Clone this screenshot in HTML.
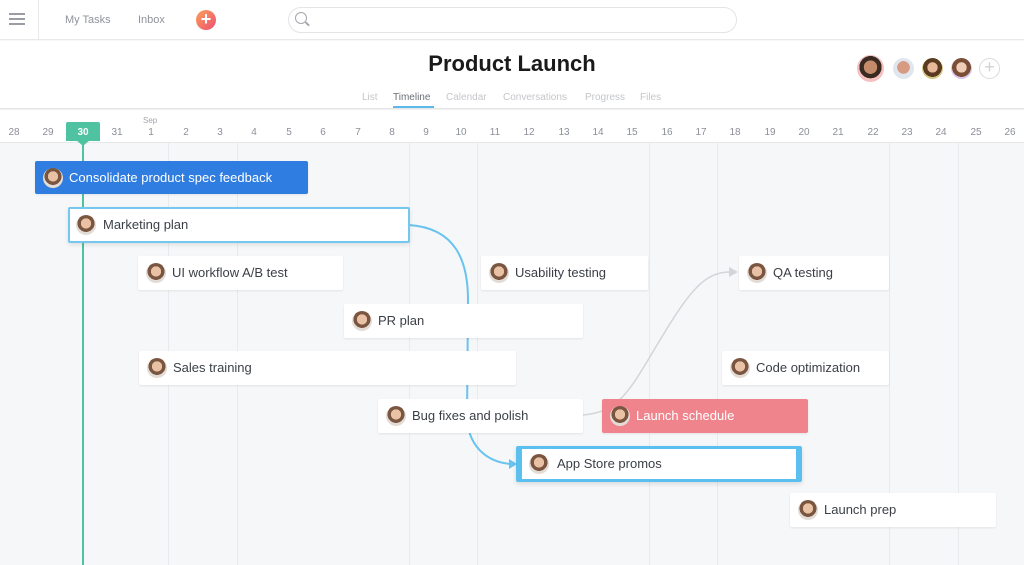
<!DOCTYPE html>
<html><head><meta charset="utf-8"><style>
*{margin:0;padding:0;box-sizing:border-box}
body{width:1024px;height:565px;overflow:hidden;background:#f6f7f9;font-family:"Liberation Sans",sans-serif;position:relative}
.abs{position:absolute}
.task{position:absolute;height:34px;background:#fff;border-radius:2px;box-shadow:0 1px 2px rgba(0,0,0,.08);font-size:13px;color:#3b3f45;line-height:34px;padding-left:34px;white-space:nowrap}
.av{position:absolute;left:8px;top:7px;width:20px;height:20px;border-radius:50%;background:radial-gradient(circle at 50% 42%,#e9c2a6 0 33%,#7a5640 34% 55%,#e3dcd6 56%)}
.day{position:absolute;top:127px;width:30px;margin-left:-15px;text-align:center;font-size:10px;color:#8b8f96}
.vl{position:absolute;top:143px;width:1px;height:422px;background:#e8eaed}
</style></head><body>
<div class="abs" style="left:0;top:0;width:1024px;height:40px;background:#fff;border-bottom:1px solid #e8e9eb"></div>
<div class="abs" style="left:38px;top:0;width:1px;height:40px;background:#e8e9eb"></div>
<div class="abs" style="left:9px;top:13px;width:16px;height:2px;background:#9a9da3;box-shadow:0 5px 0 #9a9da3,0 10px 0 #9a9da3"></div>
<div class="abs" style="left:65px;top:14px;font-size:11px;color:#8f939a">My Tasks</div>
<div class="abs" style="left:138px;top:14px;font-size:11px;color:#8f939a">Inbox</div>
<div class="abs" style="left:196px;top:10px;width:20px;height:20px;border-radius:50%;background:linear-gradient(135deg,#f9a05a,#ee4f73);color:#fff;font-size:18px;line-height:19px;text-align:center;font-weight:bold">+</div>
<div class="abs" style="left:288px;top:7px;width:449px;height:26px;border:1px solid #e3e4e6;border-radius:13px;background:#fff"></div>
<div class="abs" style="left:295px;top:12px;width:12px;height:12px;border:1.5px solid #a4a7ac;border-radius:50%"></div>
<div class="abs" style="left:305px;top:23px;width:5px;height:1.5px;background:#a4a7ac;transform:rotate(45deg)"></div>
<div class="abs" style="left:0;top:41px;width:1024px;height:68px;background:#fff;border-bottom:1px solid #e6e7e9;box-shadow:0 2px 3px rgba(0,0,0,.04)"></div>
<div class="abs" style="left:0;top:51px;width:1024px;text-align:center;font-size:22px;font-weight:bold;color:#1a1a1a">Product Launch</div>
<div class="abs" style="left:362px;top:92px;font-size:10px;color:#c3c6ca">List</div>
<div class="abs" style="left:393px;top:92px;font-size:10px;color:#6b6f75">Timeline</div>
<div class="abs" style="left:393px;top:106px;width:41px;height:2px;background:#5fb8ea"></div>
<div class="abs" style="left:446px;top:92px;font-size:10px;color:#c3c6ca">Calendar</div>
<div class="abs" style="left:503px;top:92px;font-size:10px;color:#c3c6ca">Conversations</div>
<div class="abs" style="left:585px;top:92px;font-size:10px;color:#c3c6ca">Progress</div>
<div class="abs" style="left:640px;top:92px;font-size:10px;color:#c3c6ca">Files</div>
<div class="abs" style="left:857px;top:55px;width:27px;height:27px;border-radius:50%;background:radial-gradient(circle at 50% 45%,#c48b6a 0 33%,#3a2a22 34% 55%,#f4c0c0 56%)"></div>
<div class="abs" style="left:893px;top:58px;width:21px;height:21px;border-radius:50%;background:radial-gradient(circle at 50% 45%,#d79b82 0 40%,#dfe6ee 41%)"></div>
<div class="abs" style="left:922px;top:58px;width:21px;height:21px;border-radius:50%;background:radial-gradient(circle at 50% 45%,#e8b998 0 33%,#5a3b22 34% 60%,#d8c78a 61%)"></div>
<div class="abs" style="left:951px;top:58px;width:21px;height:21px;border-radius:50%;background:radial-gradient(circle at 50% 45%,#f0cdb8 0 33%,#7a4e34 34% 60%,#d6c6ee 61%)"></div>
<div class="abs" style="left:979px;top:58px;width:21px;height:21px;border-radius:50%;border:1.5px solid #d9dbde;color:#d0d2d5;font-size:18px;line-height:17px;text-align:center">+</div>
<div class="abs" style="left:0;top:110px;width:1024px;height:33px;background:#fff;border-bottom:1px solid #e6e7e9"></div>
<div class="abs" style="left:66px;top:122px;width:34px;height:19px;background:#4fc3a1;border-radius:2px 2px 0 0"></div>
<div class="abs" style="left:76px;top:140px;width:0;height:0;border-left:7px solid transparent;border-right:7px solid transparent;border-top:6px solid #4fc3a1"></div>
<div class="abs" style="left:143px;top:116px;font-size:8px;color:#a0a4aa">Sep</div>
<div class="day" style="left:14px">28</div><div class="day" style="left:48px">29</div><div class="day" style="left:83px;color:#fff;font-weight:bold">30</div><div class="day" style="left:117px">31</div><div class="day" style="left:151px">1</div><div class="day" style="left:186px">2</div><div class="day" style="left:220px">3</div><div class="day" style="left:254px">4</div><div class="day" style="left:289px">5</div><div class="day" style="left:323px">6</div><div class="day" style="left:358px">7</div><div class="day" style="left:392px">8</div><div class="day" style="left:426px">9</div><div class="day" style="left:461px">10</div><div class="day" style="left:495px">11</div><div class="day" style="left:529px">12</div><div class="day" style="left:564px">13</div><div class="day" style="left:598px">14</div><div class="day" style="left:632px">15</div><div class="day" style="left:667px">16</div><div class="day" style="left:701px">17</div><div class="day" style="left:735px">18</div><div class="day" style="left:770px">19</div><div class="day" style="left:804px">20</div><div class="day" style="left:838px">21</div><div class="day" style="left:873px">22</div><div class="day" style="left:907px">23</div><div class="day" style="left:941px">24</div><div class="day" style="left:976px">25</div><div class="day" style="left:1010px">26</div>
<div class="vl" style="left:168px"></div><div class="vl" style="left:237px"></div><div class="vl" style="left:409px"></div><div class="vl" style="left:477px"></div><div class="vl" style="left:649px"></div><div class="vl" style="left:717px"></div><div class="vl" style="left:889px"></div><div class="vl" style="left:958px"></div>
<div class="abs" style="left:82px;top:143px;width:2px;height:422px;background:#4fc3a1"></div>
<svg class="abs" style="left:0;top:0" width="1024" height="565">
<path d="M409 225 C455 228 468 260 468 300 L467 420 C470 450 490 462 510 464" fill="none" stroke="#68c3ef" stroke-width="2"/>
<path d="M509 459 L517 464 L509 469 Z" fill="#68c3ef"/>
<path d="M583 415 C620 412 630 390 660 340 C690 290 705 272 730 272" fill="none" stroke="#d3d5d8" stroke-width="1.5"/>
<path d="M729 267 L738 272 L729 277 Z" fill="#d3d5d8"/>
</svg>
<div class="task" style="left:35px;top:161px;width:273px;height:33px;line-height:33px;background:#2f7de1;color:#fff"><span class="av"></span>Consolidate product spec feedback</div>
<div class="task" style="left:68px;top:207px;width:342px;height:36px;line-height:32px;border:2px solid #74c8f0;padding-left:33px;box-shadow:0 2px 5px rgba(0,0,0,.1)"><span class="av" style="left:6px;top:6px"></span>Marketing plan</div>
<div class="task" style="left:138px;top:256px;width:205px"><span class="av"></span>UI workflow A/B test</div>
<div class="task" style="left:481px;top:256px;width:167px"><span class="av"></span>Usability testing</div>
<div class="task" style="left:739px;top:256px;width:150px"><span class="av"></span>QA testing</div>
<div class="task" style="left:344px;top:304px;width:239px"><span class="av"></span>PR plan</div>
<div class="task" style="left:139px;top:351px;width:377px"><span class="av"></span>Sales training</div>
<div class="task" style="left:722px;top:351px;width:167px"><span class="av"></span>Code optimization</div>
<div class="task" style="left:378px;top:399px;width:205px"><span class="av"></span>Bug fixes and polish</div>
<div class="task" style="left:602px;top:399px;width:206px;background:#f0848c;color:#fff"><span class="av"></span>Launch schedule</div>
<div class="task" style="left:516px;top:446px;width:286px;height:36px;line-height:30px;border:3px solid #5bc0f0;border-left-width:6px;border-right-width:6px;padding-left:35px;box-shadow:0 2px 5px rgba(0,0,0,.12)"><span class="av" style="left:7px;top:5px"></span>App Store promos</div>
<div class="task" style="left:790px;top:493px;width:206px"><span class="av"></span>Launch prep</div>
</body></html>
